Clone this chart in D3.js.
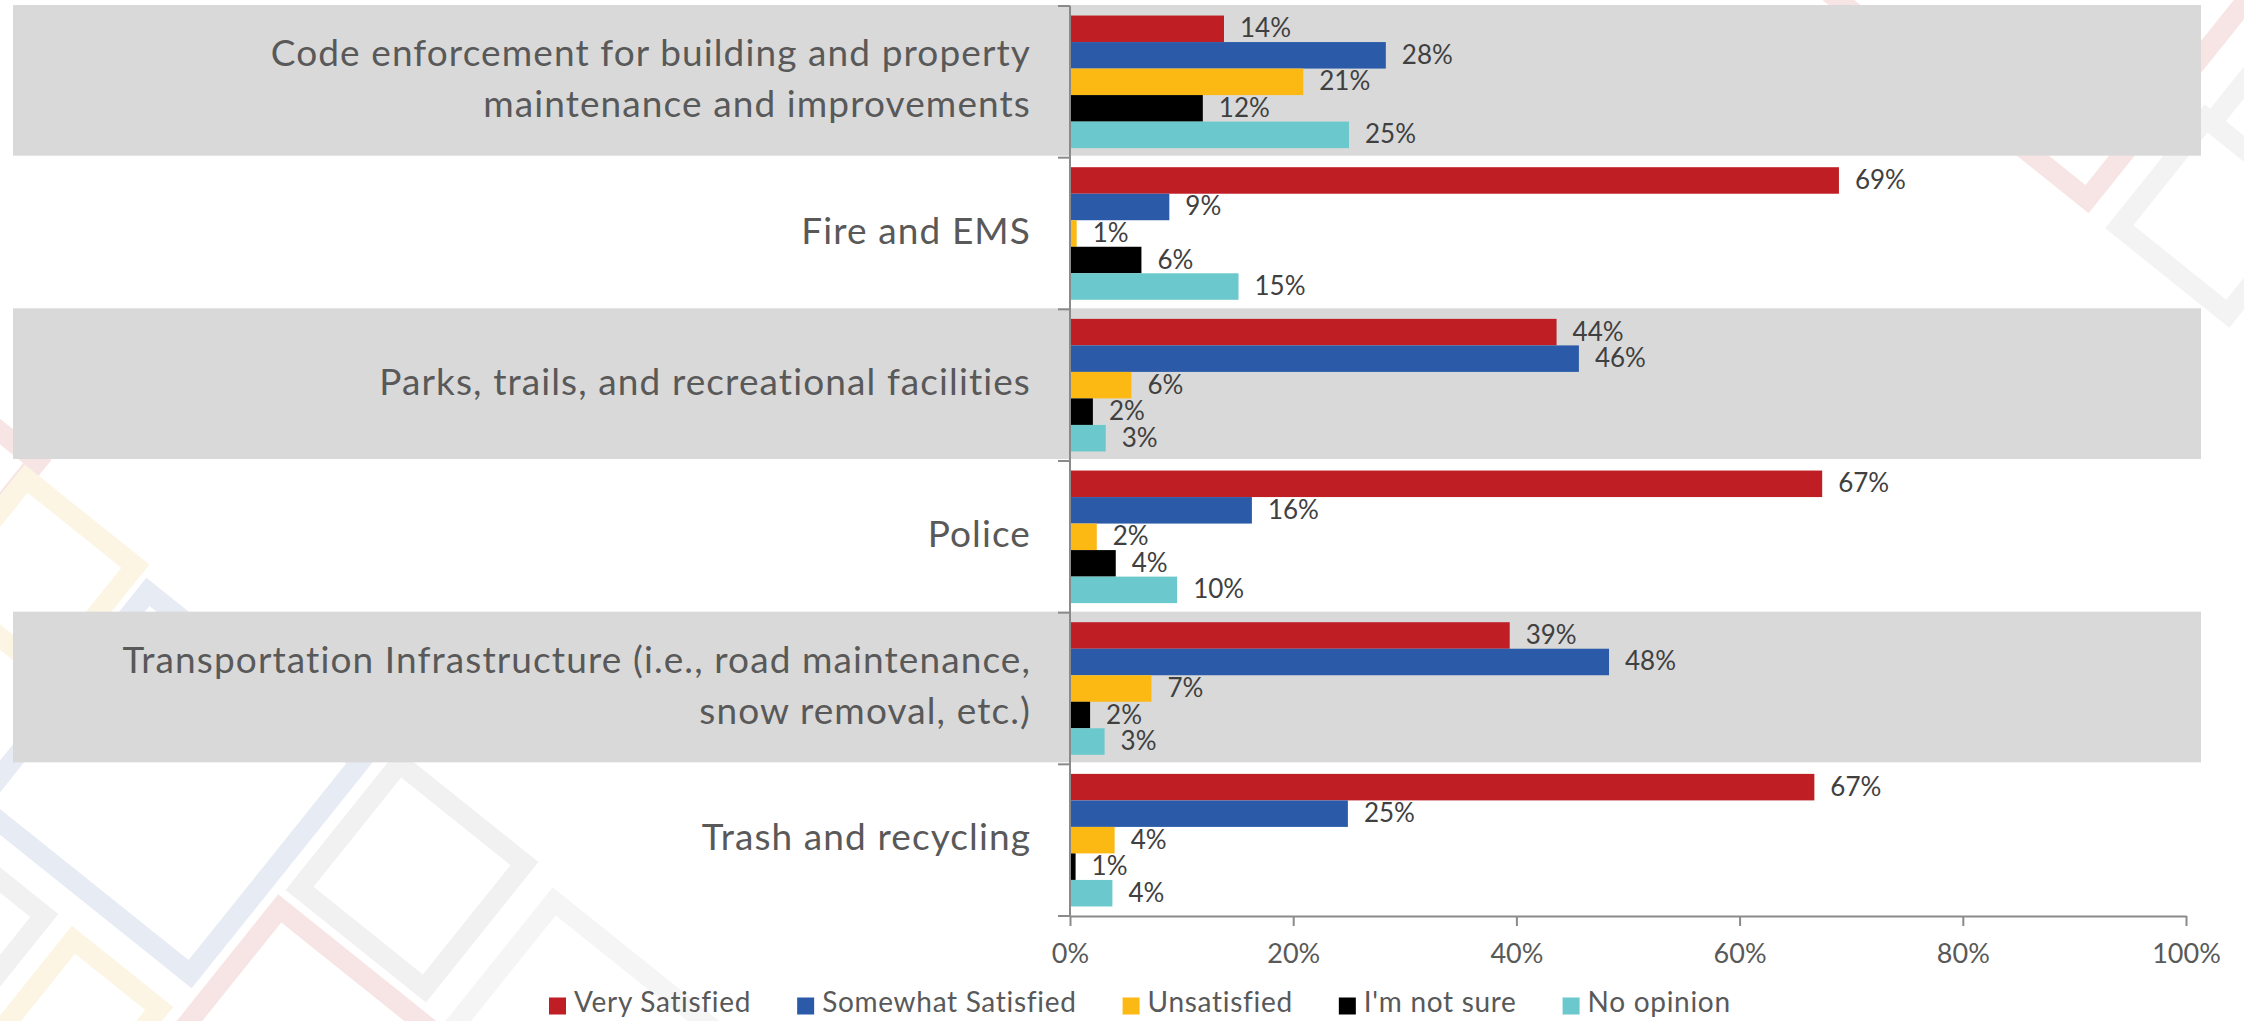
<!DOCTYPE html>
<html>
<head>
<meta charset="utf-8">
<title>Satisfaction with city services</title>
<script src="https://d3js.org/d3.v7.min.js"></script>
<style>
  body { margin: 0; background: #fff; }
  svg { display: block; font-family: Lato, "Open Sans", sans-serif; }
  .cat-label { font-size: 37px; fill: #595959; letter-spacing: 1.1px; }
  .val-label { font-size: 26px; fill: #404040; }
  .legend text { font-size: 28px; fill: #595959; letter-spacing: 0.7px; }
  .x-axis text { font-size: 27px; fill: #595959; font-family: Lato, sans-serif; }
  .x-axis path, .x-axis line, .y-axis line { stroke: #8a8a8a; stroke-width: 2px; }
</style>
</head>
<body>
<div id="chart"></div>
<script>
// ---- data ----
var categories = [
  "Code enforcement for building and property maintenance and improvements",
  "Fire and EMS",
  "Parks, trails, and recreational facilities",
  "Police",
  "Transportation Infrastructure (i.e., road maintenance, snow removal, etc.)",
  "Trash and recycling"
];
var categoryLines = [
  ["Code enforcement for building and property", "maintenance and improvements"],
  ["Fire and EMS"],
  ["Parks, trails, and recreational facilities"],
  ["Police"],
  ["Transportation Infrastructure (i.e., road maintenance,", "snow removal, etc.)"],
  ["Trash and recycling"]
];
var seriesNames = ["Very Satisfied", "Somewhat Satisfied", "Unsatisfied", "I'm not sure", "No opinion"];
var seriesColors = ["#be1e24", "#2b5ba8", "#fdb913", "#000000", "#6bc8cc"];

// percent of respondents, one array per answer
var verySatisfied     = [13.8, 68.9, 43.6, 67.4, 39.4, 66.7];
var somewhatSatisfied = [28.3,  8.9, 45.6, 16.3, 48.3, 24.9];
var unsatisfied       = [20.9,  0.6,  5.5,  2.4,  7.3,  4.0];
var notSure           = [11.9,  6.4,  2.05, 4.1,  1.8,  0.5];
var noOpinion         = [25.0, 15.1,  3.2,  9.6,  3.1,  3.8];

var xTicks = [0, 20, 40, 60, 80, 100];

// faint background squares: [cx, cy, side, colour]
var decor = [
  [-40, 470, 110, "#f7e4e4"],
  [37, 577, 140, "#fdf5e4"],
  [169, 783, 272, "#e7ebf4"],
  [412, 876, 160, "#f1f1f1"],
  [296, 1056, 210, "#f7e5e5"],
  [82, 1017, 110, "#fdf5e4"],
  [-33, 924, 110, "#f1f1f1"],
  [572, 1063, 230, "#f5f5f5"],
  [2056, -82, 400, "#f7e5e5"],
  [2217, 216, 139, "#f3f3f3"],
  [2310, 112, 140, "#f3f3f3"]
];

var allSeries = [verySatisfied, somewhatSatisfied, unsatisfied, notSure, noOpinion];

var W = 2244, H = 1021;
var svg = d3.select("#chart").append("svg")
  .attr("width", W).attr("height", H);

// background decoration
svg.append("g").selectAll("rect")
  .data(decor)
  .enter().append("rect")
  .attr("x", function(d) { return -d[2] / 2; })
  .attr("y", function(d) { return -d[2] / 2; })
  .attr("width", function(d) { return d[2]; })
  .attr("height", function(d) { return d[2]; })
  .attr("transform", function(d) { return "translate(" + d[0] + "," + d[1] + ") rotate(38.7)"; })
  .attr("fill", "none")
  .attr("stroke", function(d) { return d[3]; })
  .attr("stroke-width", 20);

// scales
var x = d3.scaleLinear().domain([0, 100]).range([1070, 2186]);
var y0 = d3.scaleBand().domain(categories).range([6, 916]);
var y1 = d3.scaleBand().domain(seriesNames).range([0, y0.bandwidth()]).paddingOuter(0.36);

// alternating grey bands
svg.append("g").selectAll("rect")
  .data(categories.filter(function(c, i) { return i % 2 === 0; }))
  .enter().append("rect")
  .attr("x", 13)
  .attr("y", function(c) { return y0(c) - 1; })
  .attr("width", 2201 - 13)
  .attr("height", y0.bandwidth() - 1)
  .attr("fill", "#d9d9d9");

// bars
var rows = [];
categories.forEach(function(c, i) {
  seriesNames.forEach(function(s, j) {
    rows.push({ cat: c, series: s, value: allSeries[j][i], color: seriesColors[j] });
  });
});

var bars = svg.append("g");
bars.selectAll("rect")
  .data(rows)
  .enter().append("rect")
  .attr("x", x(0))
  .attr("y", function(d) { return y0(d.cat) + y1(d.series); })
  .attr("width", function(d) { return x(d.value) - x(0); })
  .attr("height", y1.bandwidth())
  .attr("fill", function(d) { return d.color; });

bars.selectAll("text")
  .data(rows)
  .enter().append("text")
  .attr("class", "val-label")
  .attr("x", function(d) { return x(d.value) + 16; })
  .attr("y", function(d) { return y0(d.cat) + y1(d.series) + y1.bandwidth() / 2 + 8.5; })
  .text(function(d) { return Math.round(d.value) + "%"; });

// category labels
var catG = svg.append("g");
categories.forEach(function(c, i) {
  var lines = categoryLines[i];
  var mid = y0(c) + y0.bandwidth() / 2;
  lines.forEach(function(line, k) {
    catG.append("text")
      .attr("class", "cat-label")
      .attr("text-anchor", "end")
      .attr("x", 1031)
      .attr("y", mid + 10 + (k - (lines.length - 1) / 2) * 51)
      .text(line);
  });
});

// y axis (category separators)
var yAxis = svg.append("g").attr("class", "y-axis");
yAxis.append("line")
  .attr("x1", x(0)).attr("x2", x(0))
  .attr("y1", y0.range()[0]).attr("y2", y0.range()[1]);
var bounds = categories.map(function(c) { return y0(c); }).concat([y0.range()[1]]);
yAxis.selectAll(".tk")
  .data(bounds)
  .enter().append("line")
  .attr("class", "tk")
  .attr("x1", x(0) - 12).attr("x2", x(0))
  .attr("y1", function(d) { return d; }).attr("y2", function(d) { return d; });

// x axis
var xAxis = svg.append("g")
  .attr("class", "x-axis")
  .attr("transform", "translate(0," + y0.range()[1] + ")")
  .call(d3.axisBottom(x).tickValues(xTicks).tickSize(10).tickSizeOuter(0).tickPadding(18)
    .tickFormat(function(d) { return d + "%"; }));
xAxis.select(".domain").attr("stroke", "#8a8a8a");
xAxis.selectAll(".tick line").attr("stroke", "#8a8a8a");
xAxis.selectAll("text").attr("fill", "#595959");

// legend
var legend = svg.append("g").attr("class", "legend");
var lx = 549;
seriesNames.forEach(function(s, j) {
  legend.append("rect")
    .attr("x", lx).attr("y", 997.5)
    .attr("width", 17).attr("height", 17)
    .attr("fill", seriesColors[j]);
  var t = legend.append("text")
    .attr("x", lx + 25).attr("y", 1012)
    .text(s);
  lx += 25 + t.node().getComputedTextLength() + 46;
});
</script>
</body>
</html>
